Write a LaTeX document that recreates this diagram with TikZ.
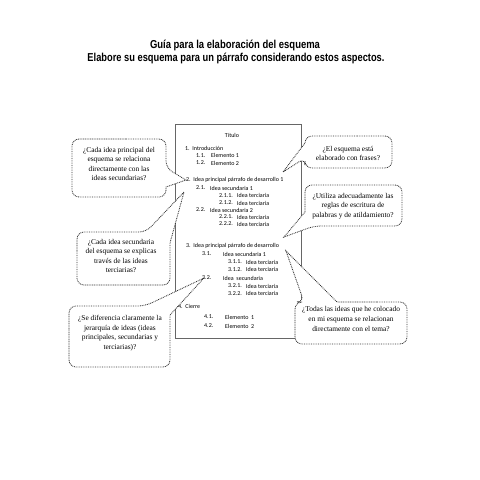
\documentclass[tikz,border=0pt]{standalone}
\usepackage{fontspec}
\setmainfont{Liberation Serif}
\newfontfamily\docfont{Carlito}
\newfontfamily\titlefont{Liberation Sans}
\begin{document}
\begin{tikzpicture}[x=1pt,y=-1pt,
  co/.style={draw=black!80, line width=0.85pt, dash pattern=on 0.85pt off 0.9pt, fill=white},
  rc/.style={rounded corners=7pt},
  qtext/.style={align=center, font=\fontsize{7.4}{9.6}\selectfont, inner sep=0pt},
  dl/.style={anchor=west, inner sep=0pt, font=\docfont\fontsize{6}{6.5}\selectfont, text=black},
  ttl/.style={inner sep=0pt, font=\titlefont\bfseries\fontsize{11.5}{13}\selectfont}]
\useasboundingbox (0,0) rectangle (480,480);
% titles
\node[ttl] (h1) at (235,45) {\resizebox{170pt}{\height}{Guía para la elaboración del esquema}};
\node[ttl] (h2) at (236,58) {\resizebox{297pt}{\height}{Elabore su esquema para un párrafo considerando estos aspectos.}};
% document
\node[draw=black!60, line width=0.9pt, anchor=north west, minimum width=126pt, minimum height=214pt, inner sep=0pt] (doc) at (175,124) {};
\node[inner sep=0pt, font=\docfont\fontsize{6}{6.5}\selectfont] (t0) at (232,135) {Título};
\node[dl] (a1) at (185,148) {1.\ \ Introducción};
\node[dl] (a11) at (196,155.5) {1.1.};
\node[dl] (a11t) at (211,155.5) {Elemento 1};
\node[dl] (a12) at (196,163) {1.2.};
\node[dl] (a12t) at (211,163) {Elemento 2};
\node[dl] (a2) at (186,180) {2.\ \ Idea principal párrafo de desarrollo 1};
\node[dl] (a21) at (196,188) {2.1.};
\node[dl] (a21t) at (210,188) {Idea secundaria 1};
\node[dl] (a211) at (219,195.5) {2.1.1.};
\node[dl] (a211t) at (237,195.5) {Idea terciaria};
\node[dl] (a212) at (219,203) {2.1.2.};
\node[dl] (a212t) at (237,203) {Idea terciaria};
\node[dl] (a22) at (196,210) {2.2.};
\node[dl] (a22t) at (210,210) {Idea secundaria 2};
\node[dl] (a221) at (219,217) {2.2.1.};
\node[dl] (a221t) at (237,217) {Idea terciaria};
\node[dl] (a222) at (219,224) {2.2.2.};
\node[dl] (a222t) at (237,224) {Idea terciaria};
\node[dl] (a3) at (186,246) {3.\ \ Idea principal párrafo de desarrollo};
\node[dl] (a31) at (202,254) {3.1.};
\node[dl] (a31t) at (223,254) {Idea secundaria 1};
\node[dl] (a311) at (228,262) {3.1.1.};
\node[dl] (a311t) at (246,262) {Idea terciaria};
\node[dl] (a312) at (228,269.5) {3.1.2.};
\node[dl] (a312t) at (246,269.5) {Idea terciaria};
\node[dl] (a32) at (202,278) {3.2.};
\node[dl] (a32t) at (223,278) {Idea\ \ secundaria};
\node[dl] (a321) at (228,286) {3.2.1.};
\node[dl] (a321t) at (246,286) {Idea terciaria};
\node[dl] (a322) at (228,293.5) {3.2.2.};
\node[dl] (a322t) at (246,293.5) {Idea terciaria};
\node[dl] (a4) at (178,306) {4.\ \ Cierre};
\node[dl] (a41) at (204,317) {4.1.};
\node[dl] (a41t) at (225,317) {Elemento\ \ 1};
\node[dl] (a42) at (204,326) {4.2.};
\node[dl] (a42t) at (225,326) {Elemento\ \ 2};
% pointer tips
\coordinate (p1) at (186,180);
\coordinate (p4) at (184,192);
\coordinate (p5) at (204,278);
\coordinate (p2) at (283,172);
\coordinate (p3) at (284,237);
\coordinate (p6) at (286,251);
% callout 1 (left top)
\draw[co] (119,139) [rc]-- (166,139) -- (166,168) [sharp corners]-- (p1) -- (166,187) [rc]-- (166,197) -- (72,197) -- (72,139) -- cycle;
\node[qtext] (q1) at (119,164) {¿Cada idea principal del\\esquema se relaciona\\directamente con las\\ideas secundarias?};
% callout 4 (left middle)
\draw[co] (77,258) [rc]-- (77,232) -- (146,232) [sharp corners]-- (p4) -- (170,243) [rc]-- (170,285) -- (77,285) -- cycle;
\node[qtext] (q4) at (121,256) {¿Cada idea secundaria\\del esquema se explicas\\través de las ideas\\terciarias?};
% callout 5 (left bottom)
\draw[co] (69,336) [rc]-- (69,306) -- (145,306) [sharp corners]-- (p5) -- (170,315) [rc]-- (170,367) -- (69,367) -- cycle;
\node[qtext] (q5) at (120,333) {¿Se diferencia claramente la\\jerarquía de ideas (ideas\\principales, secundarias y\\terciarias)?};
% callout 2 (right top)
\draw[co] (350,136) [rc]-- (392,136) -- (392,168) -- (305,168) -- (305,158) [sharp corners]-- (p2) -- (305,143) [rc]-- (305,136) -- cycle;
\node[qtext] (q2) at (348,153.5) {¿El esquema está\\elaborado con frases?};
% callout 3 (right middle)
\draw[co] (353,185) [rc]-- (402,185) -- (402,226) -- (314,226) [sharp corners]-- (p3) -- (305,212) [rc]-- (305,185) -- cycle;
\node[qtext] (q3) at (353,206) {¿Utiliza adecuadamente las\\reglas de escritura de\\palabras y de atildamiento?};
% callout 6 (right bottom)
\draw[co] (370,302) [rc]-- (407,302) -- (407,344) -- (295,344) -- (295,302) -- (304,302) [sharp corners]-- (p6) -- (337,302) [rc]-- cycle;
\node[qtext] (q6) at (351,319) {¿Todas las ideas que he colocado\\en mi esquema se relacionan\\directamente con el tema?};
\end{tikzpicture}
\end{document}
